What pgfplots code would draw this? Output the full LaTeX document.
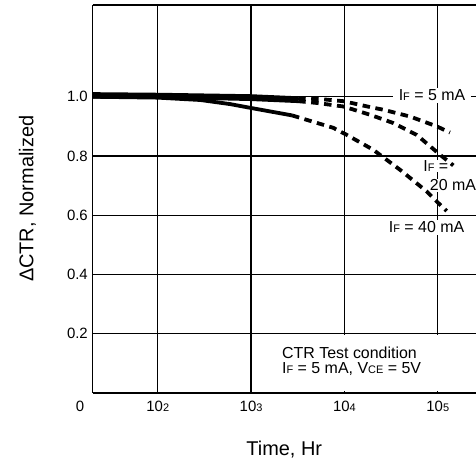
\documentclass[border=0pt]{standalone}
\usepackage{fontspec}
\setmainfont{Liberation Sans}
\usepackage{pgfplots}
\pgfplotsset{compat=1.18}
\newcommand{\sm}[1]{{\fontsize{11}{11}\selectfont #1}}
\newcommand{\ann}{\fontsize{16}{16}\selectfont}
\begin{document}
\begin{tikzpicture}
\begin{axis}[
  at={(0,0)}, anchor=south west,
  scale only axis, width=383.5bp, height=387.7bp,
  xmode=log, xmin=20, xmax=257000,
  ymin=0, ymax=1.31,
  clip=false,
  axis lines=left, axis line style={-, line width=1.7bp, black},
  xtick={100,1000,10000,100000},
  xticklabels={10\sm{2},10\sm{3},10\sm{4},10\sm{5}},
  ytick={0.2,0.4,0.6,0.8,1.0},
  yticklabels={0.2,0.4,0.6,0.8,1.0},
  major tick length=0pt, minor tick length=0pt,
  xmajorgrids, ymajorgrids,
  grid style={line width=1.25bp, black},
  xticklabel style={font=\fontsize{15}{15}\selectfont, inner sep=0pt, anchor=base, yshift=-19bp},
  yticklabel style={font=\fontsize{15}{15}\selectfont, inner sep=0pt, anchor=east, xshift=-4.5bp},
  xlabel={Time, Hr},
  xlabel style={font=\fontsize{20}{20}\selectfont, at={(axis description cs:0.5,-0.1607)}, anchor=base, inner sep=0pt},
  ylabel={ΔCTR, Normalized},
  ylabel style={font=\fontsize{20}{20}\selectfont, at={(axis description cs:-0.1544,0.5)}, anchor=base, inner sep=0pt},
]
% white area under the test condition note
\fill[white] (axis cs:1100,0.005) rectangle (axis cs:257000,0.196);
% labels
\node[fill=white, inner xsep=6bp, inner ysep=2bp, font=\ann] at (axis cs:86900,1.004) {I\sm{F} = 5 mA};
\node[fill=white, inner sep=1bp, font=\ann] at (axis cs:95400,0.766) {I\sm{F} =};
\node[fill=white, inner sep=1bp, font=\ann] at (axis cs:145500,0.701) {20 mA};
\node[fill=white, inner xsep=2bp, inner ysep=2bp, font=\ann] at (axis cs:75860,0.559) {I\sm{F} = 40 mA};
\node[anchor=base west, inner sep=0pt, font=\ann] at (axis cs:2143,0.1163) {CTR Test condition};
\node[anchor=base west, inner sep=0pt, font=\ann] at (axis cs:2143,0.0656) {I\sm{F} = 5 mA, V\sm{CE} = 5V};
% IF = 40 mA
\addplot[black, line width=3.8bp] coordinates {(20,1.000) (100,0.997) (286,0.989) (600,0.975) (1000,0.962) (2742,0.937)};
\addplot[black, line width=3.8bp, dash pattern=on 7.5bp off 5.5bp] coordinates {(2742,0.937) (7586,0.895) (10617,0.871) (20324,0.821) (39537,0.753) (76208,0.680) (97499,0.646) (124738,0.614)};
% IF = 20 mA
\addplot[black, line width=3.8bp] coordinates {(20,1.000) (100,0.999) (1000,0.992) (3199,0.985)};
\addplot[black, line width=3.8bp, dash pattern=on 7.5bp off 5.5bp] coordinates {(3199,0.985) (5070,0.979) (9772,0.967) (18880,0.939) (33497,0.911) (59566,0.871) (105925,0.804) (146893,0.768)};
% IF = 5 mA
\addplot[black, line width=3.8bp] coordinates {(20,1.009) (100,1.007) (1000,1.002) (3199,0.995)};
\addplot[black, line width=3.8bp, dash pattern=on 7.5bp off 5.5bp] coordinates {(3199,0.995) (6000,0.991) (9772,0.985) (18880,0.965) (26182,0.956) (50582,0.933) (97499,0.900) (135207,0.879)};
% top border
\draw[line width=1.7bp, black] (rel axis cs:0,1) -- (rel axis cs:1,1);
\end{axis}
\node[anchor=base, inner sep=0pt, font=\fontsize{15}{15}\selectfont] at (-12.5bp,-19bp) {0};
\pgfresetboundingbox
\path[use as bounding box] (-92.5bp,-71.3bp) rectangle (383.5bp,392.7bp);
\end{tikzpicture}
\end{document}
